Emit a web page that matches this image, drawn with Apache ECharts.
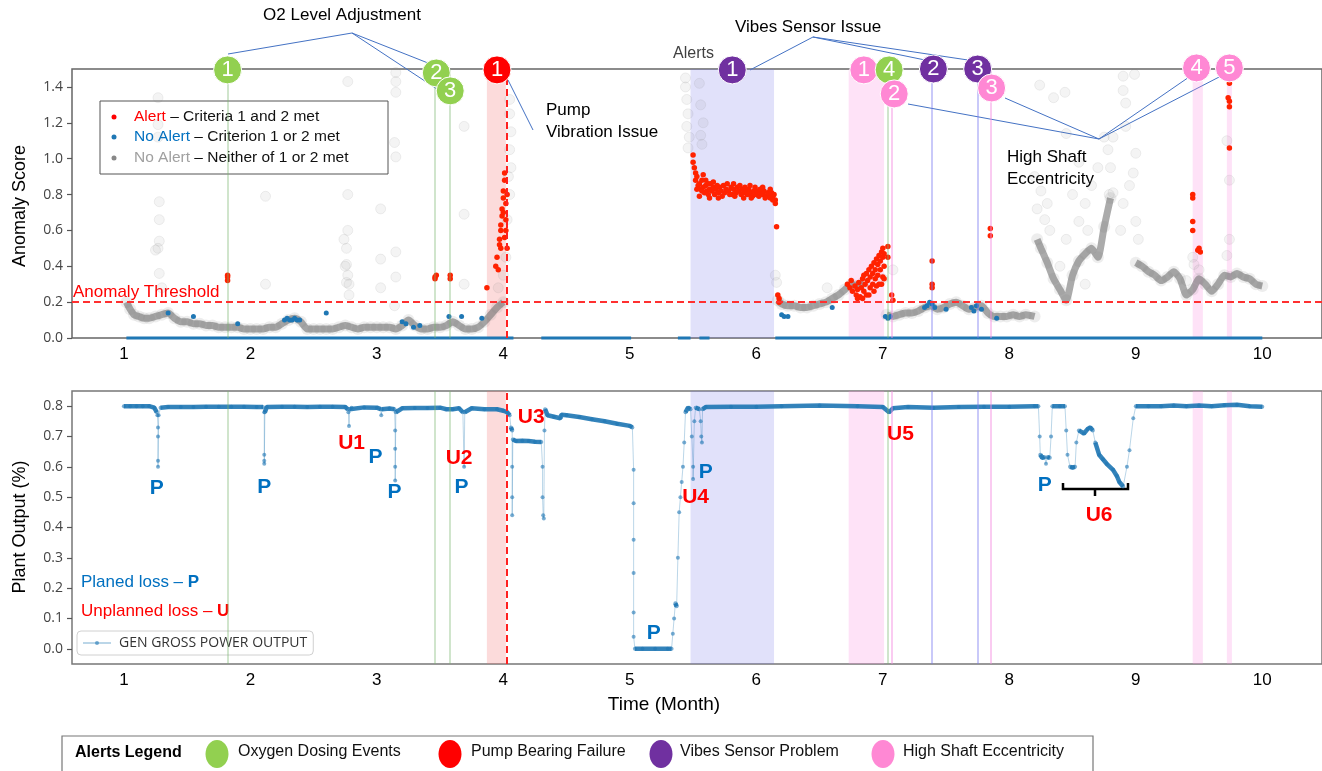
<!DOCTYPE html>
<html>
<head>
<meta charset="utf-8">
<script src="https://cdn.jsdelivr.net/npm/echarts@6/dist/echarts.min.js"></script>
<style>
  html, body { margin: 0; background: #fff; }
  #chart { width: 1322px; height: 771px; }
</style>
</head>
<body>
<div id="chart"></div>
<script>
// ---------- data ----------
const monthTicks = [1, 2, 3, 4, 5, 6, 7, 8, 9, 10];
const scoreTicks = [0, 0.2, 0.4, 0.6, 0.8, 1.0, 1.2, 1.4];
const outputTicks = [0, 0.1, 0.2, 0.3, 0.4, 0.5, 0.6, 0.7, 0.8];

const thresholdValue = 0.2;
const pumpFailureMonth = 4.03;

// gray "no alert" band, one run per continuous stretch
const grayRuns = [
  [[1.02,0.2],[1.05,0.16],[1.08,0.13],[1.12,0.12],[1.16,0.11],[1.2,0.11],[1.25,0.12],[1.3,0.13],[1.35,0.14],[1.4,0.11],
   [1.45,0.09],[1.5,0.09],[1.55,0.08],[1.6,0.08],[1.65,0.07],[1.7,0.07],[1.75,0.06],[1.8,0.06],[1.85,0.06],[1.9,0.06],
   [1.95,0.05],[2.0,0.05],[2.05,0.05],[2.1,0.05],[2.15,0.06],[2.2,0.06],[2.25,0.08],[2.3,0.1],[2.35,0.11],[2.4,0.09],
   [2.45,0.05],[2.5,0.05],[2.55,0.05],[2.6,0.05],[2.65,0.05],[2.7,0.06],[2.75,0.07],[2.8,0.06],[2.85,0.05],[2.9,0.06],
   [2.95,0.06],[3.0,0.06],[3.05,0.06],[3.1,0.06],[3.15,0.05],[3.2,0.07],[3.25,0.1],[3.3,0.07],[3.35,0.05],[3.4,0.05],
   [3.45,0.06],[3.5,0.06],[3.55,0.07],[3.6,0.09],[3.65,0.07],[3.7,0.05],[3.75,0.05],[3.8,0.06],[3.85,0.09],[3.9,0.13],
   [3.95,0.17],[4.0,0.2]],
  [[6.17,0.21],[6.2,0.19],[6.25,0.18],[6.3,0.18],[6.35,0.17],[6.4,0.17],[6.45,0.18],[6.5,0.19],[6.55,0.2],[6.6,0.22],
   [6.65,0.24],[6.7,0.27],[6.75,0.3],[6.8,0.29],[6.85,0.31]],
  [[7.03,0.13],[7.08,0.12],[7.13,0.13],[7.18,0.14],[7.23,0.14],[7.28,0.15],[7.33,0.17],[7.38,0.18],[7.43,0.16],[7.48,0.17],
   [7.53,0.19],[7.58,0.2],[7.63,0.18],[7.68,0.16],[7.73,0.17],[7.78,0.18],[7.83,0.14],[7.88,0.12],[7.93,0.12],[7.98,0.12],
   [8.03,0.13],[8.08,0.12],[8.13,0.13],[8.2,0.12]],
  [[8.22,0.55],[8.25,0.5],[8.3,0.42],[8.35,0.33],[8.4,0.27],[8.45,0.21],[8.5,0.35],[8.55,0.43],[8.6,0.47],[8.65,0.5],
   [8.7,0.45],[8.75,0.62],[8.8,0.78]],
  [[9.0,0.42],[9.05,0.4],[9.1,0.37],[9.15,0.35],[9.2,0.32],[9.25,0.34],[9.3,0.37],[9.35,0.33],[9.4,0.24],[9.45,0.27],
   [9.5,0.33],[9.55,0.3],[9.6,0.26],[9.65,0.3],[9.7,0.35],[9.75,0.34],[9.8,0.36],[9.85,0.34],[9.9,0.33],[9.95,0.3],[10.0,0.29]]
];

// faint gray outliers
const grayOutliers = [
  [1.27,1.34],[1.27,1.19],[1.27,1.12],[1.28,0.76],[1.28,0.66],[1.28,0.54],[1.27,0.5],[1.25,0.49],[1.28,0.36],[1.3,0.28],
  [2.12,0.79],[2.12,0.3],[2.77,1.43],[2.77,0.8],[2.77,0.6],[2.74,0.55],[2.76,0.5],[2.76,0.41],[2.75,0.4],[2.77,0.35],
  [2.76,0.31],[2.78,0.3],[2.78,0.24],[3.03,0.72],[3.03,0.44],[3.03,0.28],[3.15,1.48],[3.15,1.43],[3.15,1.37],[3.14,1.09],
  [3.15,1.01],[3.15,0.48],[3.15,0.34],[3.14,0.18],[3.69,1.18],[3.69,0.69],[3.69,0.3],[3.96,0.28],[4.0,0.35],[4.02,0.45],
  [4.05,1.33],[4.05,1.25],[4.06,1.15],[4.05,1.05],[4.06,0.95],[4.04,0.9],[4.05,0.8],[4.03,0.66],
  [5.44,1.45],[5.44,1.4],[5.45,1.33],[5.46,1.25],[5.45,1.18],[5.47,1.12],[5.46,1.06],[5.55,1.42],[5.56,1.3],[5.58,1.2],
  [5.56,1.13],[5.57,1.08],[6.15,0.35],[6.16,0.31],[6.56,0.28],[7.08,0.38],[7.0,0.33],
  [8.24,1.41],[8.35,1.34],[8.44,1.37],[8.45,1.14],[8.55,0.98],[8.75,1.12],[8.82,1.12],[8.9,1.46],[8.99,1.47],[8.9,1.38],
  [8.92,1.31],[8.92,1.18],[9.0,1.03],[8.98,0.92],[8.82,0.81],[8.79,0.8],[8.8,0.95],[8.78,1.05],[8.7,0.95],[8.65,0.85],
  [8.6,0.75],[8.55,0.65],[8.62,0.6],[8.5,0.8],[8.2,0.9],[8.25,0.82],[8.22,0.72],[8.28,0.66],[8.32,0.6],[8.3,0.75],
  [8.45,0.55],[8.4,0.4],[8.6,0.3],[8.88,0.6],[8.9,0.75],[8.95,0.85],[9.0,0.65],[9.02,0.55],[9.45,0.45],[9.46,0.41],
  [9.72,1.1],[9.74,0.88],[9.74,0.55],[9.72,0.46],[9.78,1.48],[9.5,0.38],[9.4,0.32]
];

// blue: criterion 1 or 2 met
const noAlertPts = [
  [1.35,0.14],[1.55,0.12],[1.9,0.08],[2.27,0.1],[2.29,0.11],[2.31,0.1],[2.33,0.1],[2.35,0.11],[2.37,0.1],[2.39,0.1],
  [2.6,0.14],[3.2,0.09],[3.23,0.08],[3.29,0.06],[3.34,0.07],[3.57,0.12],[3.67,0.12],[3.83,0.11],[6.2,0.13],[6.22,0.12],
  [6.25,0.12],[6.6,0.17],[7.02,0.12],[7.04,0.11],[7.06,0.12],[7.33,0.17],[7.35,0.18],[7.37,0.2],[7.39,0.19],[7.41,0.17],
  [7.5,0.16],[7.7,0.17],[7.72,0.15],[7.74,0.18],[7.78,0.16],[7.9,0.11]
];
// blue runs of zero score
const zeroRuns = [[1.02,4.08],[4.3,5.01],[5.38,5.48],[5.55,5.63],[6.15,10.0]];

// red: criteria 1 and 2 met
const alertPts = [
  [1.82,0.35],[1.82,0.34],[1.82,0.32],[3.46,0.34],[3.46,0.33],[3.47,0.35],[3.58,0.35],[3.58,0.33],[3.87,0.28],
  [3.94,0.4],[3.95,0.45],[3.96,0.38],[3.97,0.52],[3.97,0.55],[3.98,0.6],[3.98,0.5],[3.98,0.63],[3.99,0.68],[3.99,0.72],
  [4.0,0.78],[4.0,0.82],[4.01,0.88],[4.01,0.92],[4.0,0.7],[4.02,0.66],[4.02,0.6],[4.01,0.56],[4.03,0.5],[4.02,0.75],[4.03,0.8],
  [5.5,1.02],[5.5,0.98],[5.51,0.95],[5.52,0.92],[5.52,0.88],[5.53,0.9],[5.54,0.85],[5.55,0.86],[5.56,0.83],[5.57,0.88],
  [5.58,0.84],[5.59,0.81],[5.6,0.85],[5.61,0.82],[5.62,0.8],[5.63,0.83],[5.64,0.86],[5.65,0.82],[5.66,0.84],[5.67,0.8],
  [5.68,0.83],[5.7,0.81],[5.71,0.84],[5.72,0.82],[5.74,0.85],[5.75,0.81],[5.76,0.83],[5.78,0.82],[5.8,0.84],[5.81,0.8],
  [5.82,0.83],[5.84,0.81],[5.85,0.84],[5.86,0.82],[5.88,0.8],[5.89,0.83],[5.9,0.81],[5.92,0.82],[5.93,0.8],[5.94,0.83],
  [5.96,0.81],[5.97,0.79],[5.98,0.82],[6.0,0.8],[6.01,0.82],[6.02,0.79],[6.04,0.81],[6.05,0.8],[6.06,0.82],[6.08,0.79],
  [6.09,0.81],[6.1,0.8],[6.11,0.78],[6.12,0.81],[6.13,0.79],[6.14,0.8],[6.15,0.77],[6.15,0.75],[6.16,0.62],
  [5.58,0.91],[5.6,0.88],[5.63,0.78],[5.66,0.87],[5.82,0.86],[5.95,0.85],[6.05,0.84],[5.55,0.79],[5.7,0.78],[5.9,0.78],
  [5.53,0.83],[5.57,0.82],[5.62,0.86],[5.69,0.85],[5.73,0.79],[5.77,0.86],[5.79,0.8],[5.83,0.79],[5.87,0.85],[5.91,0.84],
  [5.96,0.78],[5.99,0.84],[6.03,0.83],[6.07,0.78],[6.11,0.83],[6.13,0.77],
  [6.17,0.24],[6.18,0.22],[6.18,0.2],
  [6.72,0.3],[6.74,0.28],[6.75,0.32],[6.76,0.26],[6.78,0.29],[6.79,0.24],[6.8,0.27],[6.81,0.31],[6.82,0.23],[6.83,0.28],
  [6.84,0.33],[6.85,0.26],[6.86,0.3],[6.87,0.36],[6.87,0.24],[6.88,0.32],[6.89,0.38],[6.9,0.28],[6.9,0.34],[6.91,0.4],
  [6.92,0.3],[6.92,0.36],[6.93,0.42],[6.94,0.33],[6.94,0.38],[6.95,0.44],[6.96,0.35],[6.96,0.41],[6.97,0.46],[6.97,0.3],
  [6.98,0.38],[6.98,0.43],[6.99,0.48],[7.0,0.34],[7.0,0.45],[7.0,0.5],[7.01,0.4],[7.01,0.47],[6.93,0.26],[6.95,0.29],
  [6.99,0.3],[7.01,0.33],[6.85,0.35],[6.8,0.22],[6.84,0.22],[6.89,0.24],
  [7.04,0.51],[7.04,0.45],[7.07,0.24],[7.08,0.21],[7.39,0.43],[7.39,0.3],[7.39,0.28],[7.85,0.61],[7.85,0.57],
  [9.45,0.8],[9.45,0.78],[9.45,0.65],[9.45,0.6],[9.5,0.5],[9.51,0.48],[9.49,0.49],
  [9.74,1.42],[9.73,1.34],[9.74,1.32],[9.74,1.29],[9.74,1.06]
];

// plant output (fraction)
const plantOutput = [
  [1.0,0.8],[1.05,0.8],[1.1,0.8],[1.15,0.8],[1.2,0.8],[1.24,0.795],[1.26,0.78],[1.265,0.77],[1.27,0.73],[1.27,0.7],
  [1.27,0.62],[1.27,0.6],[1.275,0.77],[1.29,0.795],[1.35,0.797],[1.45,0.797],[1.55,0.797],[1.65,0.798],[1.75,0.798],
  [1.85,0.798],[1.95,0.798],[2.05,0.797],[2.1,0.797],[2.11,0.78],[2.11,0.64],[2.11,0.62],[2.11,0.61],[2.115,0.78],
  [2.13,0.797],[2.25,0.798],[2.35,0.798],[2.45,0.797],[2.55,0.798],[2.65,0.798],[2.75,0.797],[2.77,0.79],[2.775,0.78],
  [2.78,0.735],[2.785,0.79],[2.8,0.795],[2.9,0.796],[3.0,0.795],[3.03,0.79],[3.035,0.77],[3.04,0.79],[3.1,0.792],
  [3.14,0.79],[3.145,0.72],[3.145,0.66],[3.145,0.6],[3.145,0.555],[3.15,0.78],[3.2,0.793],[3.3,0.794],[3.4,0.794],
  [3.5,0.795],[3.55,0.79],[3.6,0.79],[3.65,0.793],[3.68,0.78],[3.69,0.6],[3.695,0.78],[3.75,0.793],[3.85,0.79],
  [3.95,0.79],[4.0,0.785],[4.03,0.78],[4.05,0.77],[4.06,0.73],[4.07,0.72],[4.07,0.6],[4.07,0.5],[4.07,0.44],[4.075,0.69],
  [4.1,0.685],[4.15,0.686],[4.2,0.685],[4.25,0.683],[4.3,0.682],[4.31,0.6],[4.31,0.5],[4.315,0.44],[4.32,0.43],
  [4.325,0.72],[4.33,0.79],[4.35,0.77],[4.4,0.765],[4.45,0.76],[4.46,0.772],[4.5,0.77],[4.6,0.764],[4.7,0.757],
  [4.8,0.75],[4.9,0.742],[5.0,0.735],[5.02,0.73],[5.03,0.59],[5.03,0.48],[5.03,0.36],[5.03,0.25],[5.03,0.12],
  [5.03,0.04],[5.04,0.0],[5.1,0.0],[5.2,0.0],[5.3,0.0],[5.33,0.0],[5.34,0.05],[5.35,0.1],[5.36,0.15],[5.37,0.14],
  [5.38,0.3],[5.39,0.45],[5.4,0.5],[5.41,0.55],[5.42,0.6],[5.43,0.68],[5.44,0.78],[5.46,0.795],[5.48,0.79],[5.49,0.7],
  [5.5,0.6],[5.5,0.56],[5.51,0.75],[5.52,0.795],[5.55,0.79],[5.56,0.75],[5.565,0.7],[5.57,0.68],[5.575,0.79],
  [5.6,0.797],[5.8,0.798],[6.0,0.798],[6.2,0.8],[6.5,0.802],[6.8,0.8],[7.0,0.797],[7.05,0.78],[7.08,0.793],[7.2,0.797],
  [7.4,0.795],[7.6,0.797],[7.8,0.798],[8.0,0.798],[8.2,0.8],[8.23,0.8],[8.24,0.7],[8.245,0.64],[8.26,0.63],
  [8.28,0.632],[8.29,0.61],[8.3,0.632],[8.32,0.63],[8.33,0.7],[8.34,0.8],[8.4,0.8],[8.44,0.8],[8.45,0.72],[8.46,0.64],
  [8.48,0.6],[8.5,0.598],[8.52,0.6],[8.53,0.68],[8.55,0.72],[8.59,0.71],[8.62,0.725],[8.64,0.73],[8.66,0.72],
  [8.68,0.68],[8.71,0.64],[8.74,0.625],[8.77,0.61],[8.82,0.59],[8.85,0.57],[8.87,0.55],[8.9,0.535],[8.93,0.6],
  [8.95,0.655],[8.98,0.76],[9.0,0.8],[9.1,0.8],[9.2,0.8],[9.3,0.802],[9.4,0.8],[9.5,0.802],[9.6,0.8],[9.7,0.803],
  [9.8,0.805],[9.9,0.8],[10.0,0.798]
];

// alert shading spans and single-event lines
const shadeSpans = [[3.87, 4.02, 'pump'], [5.48, 6.14, 'vibes'], [6.73, 7.01, 'shaft'], [9.45, 9.53, 'shaft'], [9.72, 9.76, 'shaft']];
const eventLines = [[1.82, 'o2'], [3.46, 'o2'], [3.58, 'o2'], [7.04, 'o2'], [7.39, 'vibes'], [7.75, 'vibes'], [7.07, 'shaft'], [7.85, 'shaft']];

// numbered alert badges
const badgeMonth = [1.82, 3.47, 3.58, 3.95, 5.81, 6.85, 7.05, 7.09, 7.40, 7.75, 7.86, 9.48, 9.74];
const badgeScore = [1.495, 1.478, 1.378, 1.495, 1.495, 1.495, 1.495, 1.361, 1.5, 1.5, 1.394, 1.506, 1.506];
const badgeText = ['1', '2', '3', '1', '1', '1', '4', '2', '2', '3', '3', '4', '5'];
const badgeKind = ['o2', 'o2', 'o2', 'pump', 'vibes', 'shaft', 'o2', 'shaft', 'vibes', 'vibes', 'shaft', 'shaft', 'shaft'];

// loss labels on the output plot
const lossMonth = [1.26, 2.11, 2.80, 2.99, 3.14, 3.65, 3.67, 4.22, 5.52, 5.60, 5.19, 7.14, 8.28, 8.71];
const lossValue = [0.53, 0.534, 0.678, 0.632, 0.517, 0.629, 0.534, 0.764, 0.50, 0.583, 0.053, 0.708, 0.54, 0.441];
const lossText = ['P', 'P', 'U1', 'P', 'P', 'U2', 'P', 'U3', 'U4', 'P', 'P', 'U5', 'P', 'U6'];

// ---------- styling ----------
const FONT = '"Liberation Sans", Arial, sans-serif';
const badgeColor = { o2: '#92d050', pump: '#ff0000', vibes: '#7030a0', shaft: '#ff88d4' };
const spanColor = { pump: 'rgba(245,110,110,0.25)', vibes: 'rgba(120,120,230,0.22)', shaft: 'rgba(250,140,225,0.25)' };
const lineColor = { o2: 'rgba(120,180,110,0.35)', vibes: 'rgba(120,120,240,0.4)', shaft: 'rgba(245,140,225,0.45)' };
const BLUE = '#1f77b4';

const xMin = 0.59, xMax = 10.472;

function spanMarkers(withThreshold) {
  const lines = eventLines.map(e => ({ xAxis: e[0], lineStyle: { color: lineColor[e[1]], width: 2, type: 'solid' } }));
  lines.push({ xAxis: pumpFailureMonth, lineStyle: { color: '#ff2020', width: 2, type: [7, 4] } });
  if (withThreshold) lines.push({ yAxis: thresholdValue, lineStyle: { color: '#ff3030', width: 2, type: [7, 4] } });
  return {
    markArea: { silent: true, data: shadeSpans.map(s => [{ xAxis: s[0], itemStyle: { color: spanColor[s[2]] } }, { xAxis: s[1] }]) },
    markLine: { silent: true, symbol: 'none', label: { show: false }, data: lines }
  };
}

function steadyPath(pts) {
  const out = [];
  for (let i = 0; i < pts.length; i++) {
    if (i > 0) {
      const dm = pts[i][0] - pts[i - 1][0];
      const dv = Math.abs(pts[i][1] - pts[i - 1][1]);
      if (dv > 1.2 * dm + 0.004) out.push([pts[i][0], '-']);
    }
    out.push(pts[i]);
  }
  return out;
}

function zeroPath(runs) {
  const out = [];
  runs.forEach(r => { out.push([r[0], 0], [r[1], 0], [r[1], '-']); });
  return out;
}

const xAxisBase = (gridIndex, margin) => ({
  type: 'value', gridIndex, min: xMin, max: xMax,
  axisLine: { show: false }, axisTick: { show: false }, splitLine: { show: false },
  axisLabel: { customValues: monthTicks, margin, fontSize: 17, color: '#000', fontFamily: FONT }
});
const yAxisBase = (gridIndex, min, max, ticks) => ({
  type: 'value', gridIndex, min, max,
  axisLine: { show: false }, splitLine: { show: false },
  axisTick: { show: true, customValues: ticks, length: 5, lineStyle: { color: '#555', width: 1.2 } },
  axisLabel: { customValues: ticks, margin: 9, fontSize: 14, color: '#444', fontFamily: '"Open Sans", sans-serif',
               formatter: v => v.toFixed(1) }
});

const series = [];
// top: spans + threshold
series.push(Object.assign({ type: 'line', xAxisIndex: 0, yAxisIndex: 0, data: [], z: 1, silent: true }, spanMarkers(true)));
// top: zero runs
series.push({ type: 'line', xAxisIndex: 0, yAxisIndex: 0, data: zeroPath(zeroRuns), showSymbol: false, clip: false,
  lineStyle: { color: BLUE, width: 3 }, silent: true, z: 3 });
// top: gray band
grayRuns.forEach(run => {
  series.push({ type: 'line', xAxisIndex: 0, yAxisIndex: 0, data: run, showSymbol: false, smooth: 0.2,
    lineStyle: { color: 'rgba(115,115,115,0.6)', width: 7 }, silent: true, z: 2 });
  series.push({ type: 'scatter', xAxisIndex: 0, yAxisIndex: 0, data: run, symbolSize: 12,
    itemStyle: { color: 'rgba(125,125,125,0.14)', opacity: 1 }, silent: true, z: 2 });
});
series.push({ name: 'Neither', type: 'scatter', xAxisIndex: 0, yAxisIndex: 0, data: grayOutliers, symbolSize: 10,
  itemStyle: { color: 'rgba(130,130,130,0.09)', borderColor: 'rgba(130,130,130,0.12)', borderWidth: 1, opacity: 1 }, silent: true, z: 2 });
series.push({ name: 'Criterion 1 or 2', type: 'scatter', xAxisIndex: 0, yAxisIndex: 0, data: noAlertPts, symbolSize: 5,
  itemStyle: { color: BLUE, opacity: 1 }, silent: true, z: 3 });
series.push({ name: 'Criteria 1 and 2', type: 'scatter', xAxisIndex: 0, yAxisIndex: 0, data: alertPts, symbolSize: 5.5,
  itemStyle: { color: '#ff2200', opacity: 1 }, silent: true, z: 4 });
// top: badges
series.push({ type: 'scatter', xAxisIndex: 0, yAxisIndex: 0, clip: false, z: 10, silent: true, symbolSize: 28,
  data: badgeMonth.map((m, i) => ({ value: [m, badgeScore[i]], name: badgeText[i],
    itemStyle: { color: badgeColor[badgeKind[i]], borderColor: '#fff', borderWidth: 1, opacity: 1 } })),
  label: { show: true, position: 'inside', formatter: p => p.name, color: '#fff', fontSize: 22, fontFamily: FONT } });

// bottom: spans
series.push(Object.assign({ type: 'line', xAxisIndex: 1, yAxisIndex: 1, data: [], z: 1, silent: true }, spanMarkers(false)));
series.push({ name: 'GEN GROSS POWER OUTPUT', type: 'line', xAxisIndex: 1, yAxisIndex: 1, data: plantOutput,
  symbol: 'circle', symbolSize: 4, showAllSymbol: true, z: 3,
  lineStyle: { color: BLUE, width: 1, opacity: 0.3 }, itemStyle: { color: BLUE, opacity: 0.6 } });
series.push({ type: 'line', xAxisIndex: 1, yAxisIndex: 1, data: steadyPath(plantOutput), showSymbol: false, z: 4,
  lineStyle: { color: BLUE, width: 4.5, opacity: 0.9 }, silent: true });
series.push({ type: 'scatter', xAxisIndex: 1, yAxisIndex: 1, symbol: 'circle', symbolSize: 1, z: 6, silent: true, clip: false,
  itemStyle: { color: 'rgba(0,0,0,0)', opacity: 1 },
  data: lossMonth.map((m, i) => ({ value: [m, lossValue[i]], name: lossText[i],
    label: { color: lossText[i][0] === 'U' ? '#ff0000' : '#0070c0' } })),
  label: { show: true, position: 'inside', formatter: p => p.name, fontSize: 21, fontWeight: 'bold', fontFamily: FONT,
           opacity: 1, textBorderWidth: 0 } });

// ---------- annotation graphics ----------
const g = [];
function txt(x, y, text, size, color, align) {
  g.push({ type: 'text', x, y, silent: true,
    style: { text, font: size + 'px ' + FONT, fill: color, textAlign: align || 'left', textVerticalAlign: 'middle' } });
}
function seg(points, color, width) {
  g.push({ type: 'polyline', silent: true, shape: { points }, style: { stroke: color || '#4472c4', lineWidth: width || 1, fill: null } });
}
// leader lines
seg([[228, 54], [352, 33], [428, 63]]); seg([[352, 33], [437, 89]]);
seg([[508, 80], [533, 130]]);
seg([[750, 70], [813, 37], [925, 60]]); seg([[813, 37], [968, 60]]);
seg([[908, 104], [1099, 139], [1005, 98]]); seg([[1099, 139], [1192, 75]]); seg([[1099, 139], [1223, 75]]);
// annotation texts
txt(342, 15, 'O2 Level Adjustment', 17, '#000', 'center');
txt(808, 27, 'Vibes Sensor Issue', 17, '#000', 'center');
txt(546, 110, 'Pump', 17, '#000');
txt(546, 132, 'Vibration Issue', 17, '#000');
txt(1007, 157, 'High Shaft', 17, '#000');
txt(1007, 179, 'Eccentricity', 17, '#000');
txt(673, 54, 'Alerts', 16, '#404040');
txt(73, 292, 'Anomaly Threshold', 17, '#ff0000');
// top legend box
g.push({ type: 'rect', silent: true, shape: { x: 100, y: 101, width: 288, height: 73 }, style: { fill: null, stroke: '#555', lineWidth: 1 } });
[['#ff0000', 117, 'Alert', '#ff0000', ' – Criteria 1 and 2 met'],
 [BLUE, 137, 'No Alert', '#0070c0', ' – Criterion 1 or 2 met'],
 ['#888', 158, 'No Alert', '#a0a0a0', ' – Neither of 1 or 2 met']].forEach(r => {
  g.push({ type: 'circle', silent: true, shape: { cx: 114, cy: r[1], r: 2.5 }, style: { fill: r[0] } });
  g.push({ type: 'text', x: 134, y: r[1], silent: true, style: {
    text: '{a|' + r[2] + '}{b|' + r[4] + '}', textVerticalAlign: 'middle',
    rich: { a: { fill: r[3], fontSize: 15.5, fontFamily: FONT }, b: { fill: '#111', fontSize: 15.5, fontFamily: FONT } } } });
});
// loss key
g.push({ type: 'text', x: 81, y: 582, silent: true, style: { text: '{a|Planed loss – }{b|P}', textVerticalAlign: 'middle',
  rich: { a: { fill: '#0070c0', fontSize: 17, fontFamily: FONT }, b: { fill: '#0070c0', fontSize: 17, fontWeight: 'bold', fontFamily: FONT } } } });
g.push({ type: 'text', x: 81, y: 611, silent: true, style: { text: '{a|Unplanned loss – }{b|U}', textVerticalAlign: 'middle',
  rich: { a: { fill: '#ff0000', fontSize: 17, fontFamily: FONT }, b: { fill: '#ff0000', fontSize: 17, fontWeight: 'bold', fontFamily: FONT } } } });
// U6 bracket
seg([[1063, 483], [1063, 489], [1128, 489], [1128, 483]], '#000', 2.5);
seg([[1095, 489], [1095, 496]], '#000', 2.5);
// axis titles
g.push({ type: 'text', x: 20, y: 206, rotation: Math.PI / 2, silent: true,
  style: { text: 'Anomaly Score', font: '18px ' + FONT, fill: '#000', textAlign: 'center', textVerticalAlign: 'middle' } });
g.push({ type: 'text', x: 20, y: 527, rotation: Math.PI / 2, silent: true,
  style: { text: 'Plant Output (%)', font: '18px ' + FONT, fill: '#000', textAlign: 'center', textVerticalAlign: 'middle' } });
txt(664, 705, 'Time (Month)', 19, '#000', 'center');
// alerts legend
g.push({ type: 'rect', silent: true, shape: { x: 62, y: 736, width: 1031, height: 45 }, style: { fill: '#fff', stroke: '#777', lineWidth: 1.2 } });
g.push({ type: 'text', x: 75, y: 753, silent: true, style: { text: 'Alerts Legend', font: 'bold 16px ' + FONT, fill: '#000', textVerticalAlign: 'middle' } });
[[217, 238, 'o2', 'Oxygen Dosing Events'], [450, 471, 'pump', 'Pump Bearing Failure'],
 [661, 680, 'vibes', 'Vibes Sensor Problem'], [883, 903, 'shaft', 'High Shaft Eccentricity']].forEach(l => {
  g.push({ type: 'ellipse', silent: true, shape: { cx: l[0], cy: 754, rx: 11.5, ry: 14 }, style: { fill: badgeColor[l[2]] } });
  g.push({ type: 'text', x: l[1], y: 752, silent: true, style: { text: l[3], font: '16px ' + FONT, fill: '#111', textVerticalAlign: 'middle' } });
});

const option = {
  animation: false,
  backgroundColor: '#fff',
  grid: [
    { left: 72, top: 69, right: -4, height: 269, show: true, borderColor: '#666', borderWidth: 1.5, backgroundColor: 'transparent' },
    { left: 72, top: 391, right: -4, height: 273, show: true, borderColor: '#777', borderWidth: 1.5, backgroundColor: 'transparent' }
  ],
  xAxis: [xAxisBase(0, 8), xAxisBase(1, 8)],
  yAxis: [yAxisBase(0, 0, 1.5, scoreTicks), yAxisBase(1, -0.05, 0.85, outputTicks)],
  legend: {
    data: ['GEN GROSS POWER OUTPUT'], left: 77, top: 631, orient: 'vertical',
    padding: [5, 6, 5, 5], itemWidth: 28, itemHeight: 5,
    borderColor: '#d0d0d0', borderWidth: 1, borderRadius: 4, backgroundColor: '#fff',
    textStyle: { fontSize: 14, color: '#333', fontFamily: '"Open Sans", sans-serif', padding: [0, 0, 0, 3] }
  },
  series,
  graphic: g
};

const chart = echarts.init(document.getElementById('chart'));
chart.setOption(option);
</script>
</body>
</html>
